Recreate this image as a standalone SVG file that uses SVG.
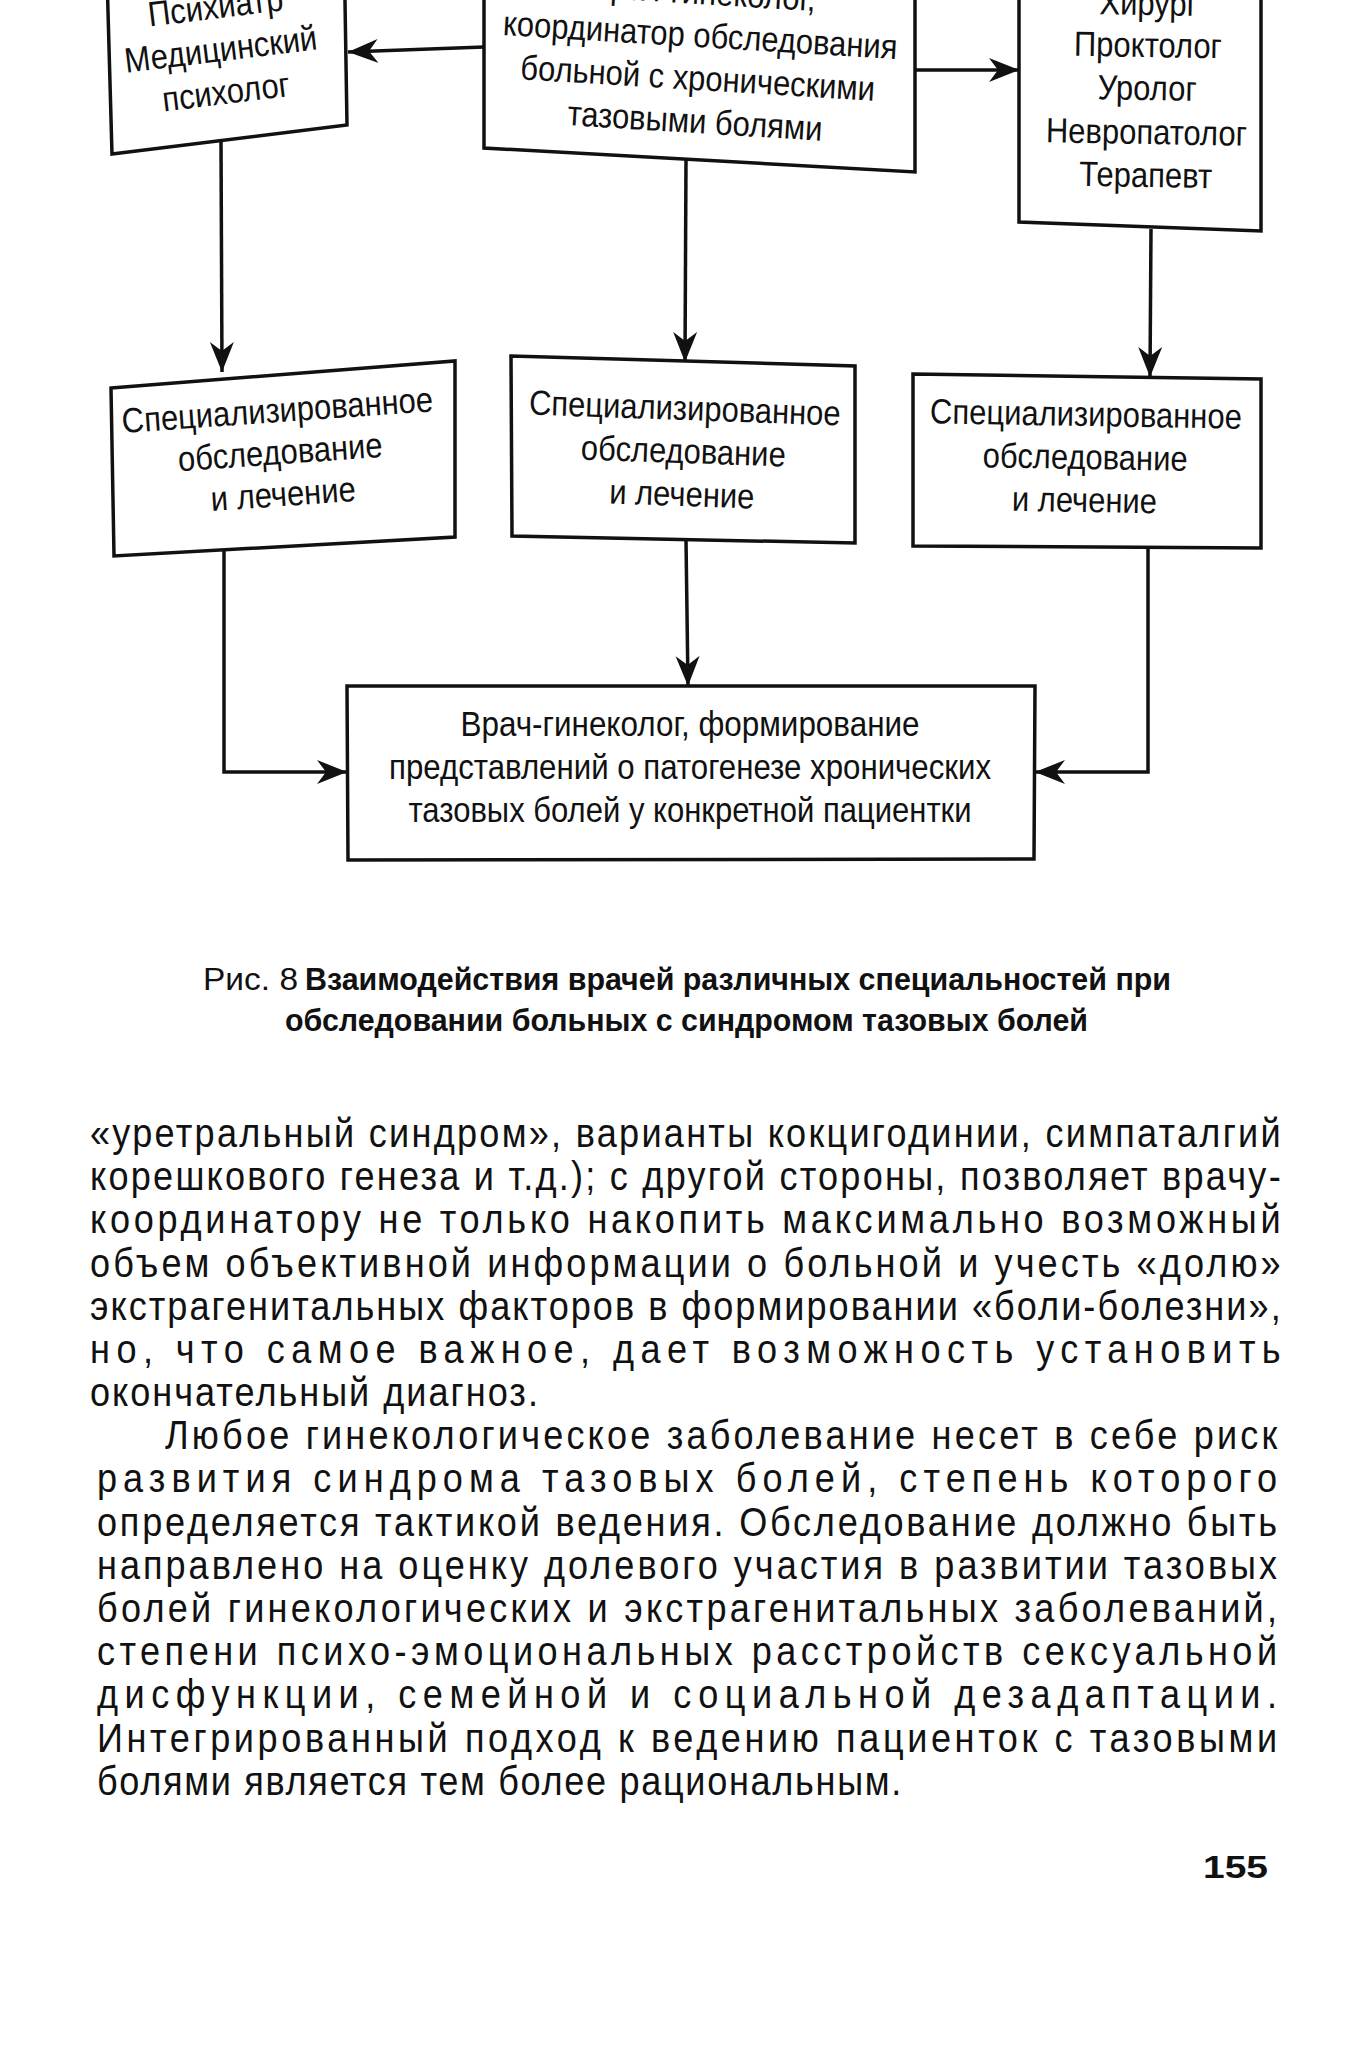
<svg xmlns="http://www.w3.org/2000/svg" width="1371" height="2050" viewBox="0 0 1371 2050">
<style>
.box{fill:#fff;stroke:#111;stroke-width:3.5;stroke-linejoin:miter}
.nt{font-family:"Liberation Sans",Arial,sans-serif;font-size:35px;fill:#111;text-anchor:middle}
.conn line,.conn polyline{stroke:#111;stroke-width:3.5;fill:none}
.cap{font-family:"Liberation Sans",Arial,sans-serif;font-size:32px;fill:#111}
.capb{font-weight:bold}
.body{font-family:"Liberation Sans",Arial,sans-serif;font-size:41px;fill:#111}
.pg{font-family:"Liberation Sans",Arial,sans-serif;font-size:32px;font-weight:bold;fill:#111}
</style>
<defs>
<marker id="arr" markerUnits="userSpaceOnUse" viewBox="0 -13 31 26" markerWidth="31" markerHeight="26" refX="30" refY="0" orient="auto">
<path d="M30,0 L0,-12 L9,0 L0,12 Z" fill="#111"/>
</marker>
</defs>
<rect width="1371" height="2050" fill="#fff"/>

<g id="connectors" class="conn">
<line x1="484" y1="47" x2="348" y2="52" marker-end="url(#arr)"/>
<line x1="915" y1="70" x2="1019" y2="70" marker-end="url(#arr)"/>
<line x1="221" y1="140" x2="222" y2="372" marker-end="url(#arr)"/>
<line x1="686" y1="159" x2="685" y2="362" marker-end="url(#arr)"/>
<line x1="1151" y1="229" x2="1150" y2="377" marker-end="url(#arr)"/>
<polyline points="224,546 224,772 347,772" marker-end="url(#arr)"/>
<line x1="686" y1="540" x2="688" y2="686" marker-end="url(#arr)"/>
<polyline points="1148,547 1148,772 1035,772" marker-end="url(#arr)"/>
</g>

<g id="node-psych">
<polygon class="box" points="106,-60 344,-60 347,125 112,154"/>
<g transform="rotate(-7 222 60) translate(222 0) scale(0.885 1) translate(-222 0)">
<text class="nt" x="222" y="18">Психиатр</text>
<text class="nt" x="222" y="61">Медицинский</text>
<text class="nt" x="222" y="104">психолог</text>
</g>
</g>

<g id="node-coordinator">
<polygon class="box" points="484,-60 915,-60 915,172 484,148"/>
<g transform="rotate(3.5 697 90) translate(697 0) scale(0.885 1) translate(-697 0)">
<text class="nt" x="697" y="4">Врач-гинеколог,</text>
<text class="nt" x="697" y="47">координатор обследования</text>
<text class="nt" x="697" y="90">больной с хроническими</text>
<text class="nt" x="697" y="133">тазовыми болями</text>
</g>
</g>

<g id="node-specialists">
<polygon class="box" points="1019,-60 1261,-60 1261,231 1019,222"/>
<g transform="rotate(1 1147 100) translate(1147 0) scale(0.885 1) translate(-1147 0)">
<text class="nt" x="1147" y="15">Хирург</text>
<text class="nt" x="1147" y="57">Проктолог</text>
<text class="nt" x="1147" y="100">Уролог</text>
<text class="nt" x="1147" y="144">Невропатолог</text>
<text class="nt" x="1147" y="187">Терапевт</text>
</g>
</g>

<g id="node-spec1">
<polygon class="box" points="111,388 455,361 455,537 114,556"/>
<g transform="rotate(-4 281 463) translate(281 0) scale(0.885 1) translate(-281 0)">
<text class="nt" x="281" y="422">Специализированное</text>
<text class="nt" x="281" y="464">обследование</text>
<text class="nt" x="281" y="506">и лечение</text>
</g>
</g>

<g id="node-spec2">
<polygon class="box" points="511,356 855,366 855,543 512,536"/>
<g transform="rotate(2 683 462) translate(683 0) scale(0.885 1) translate(-683 0)">
<text class="nt" x="683" y="420">Специализированное</text>
<text class="nt" x="683" y="463">обследование</text>
<text class="nt" x="683" y="506">и лечение</text>
</g>
</g>

<g id="node-spec3">
<polygon class="box" points="913,374 1261,379 1261,548 913,546"/>
<g transform="rotate(1 1085 468) translate(1085 0) scale(0.885 1) translate(-1085 0)">
<text class="nt" x="1085" y="426">Специализированное</text>
<text class="nt" x="1085" y="469">обследование</text>
<text class="nt" x="1085" y="512">и лечение</text>
</g>
</g>

<g id="node-final">
<polygon class="box" points="347,686 1035,686 1034,859 348,860"/>
<text class="nt" x="690" y="736" textLength="459" lengthAdjust="spacingAndGlyphs">Врач-гинеколог, формирование</text>
<text class="nt" x="690" y="779" textLength="602" lengthAdjust="spacingAndGlyphs">представлений о патогенезе хронических</text>
<text class="nt" x="690" y="822" textLength="563" lengthAdjust="spacingAndGlyphs">тазовых болей у конкретной пациентки</text>
</g>

<g id="caption">
<text class="cap" x="203" y="990" textLength="95" lengthAdjust="spacingAndGlyphs">Рис. 8</text>
<text class="cap capb" x="305" y="990" textLength="866" lengthAdjust="spacingAndGlyphs">Взаимодействия врачей различных специальностей при</text>
<text class="cap capb" x="285" y="1031" textLength="803" lengthAdjust="spacingAndGlyphs">обследовании больных с синдромом тазовых болей</text>
</g>

<g id="body-text" transform="scale(0.88 1)">
<text class="body" x="102.3" y="1147" textLength="1353" lengthAdjust="spacing">«уретральный синдром», варианты кокцигодинии, симпаталгий</text>
<text class="body" x="102.3" y="1190" textLength="1353" lengthAdjust="spacing">корешкового генеза и т.д.); с другой стороны, позволяет врачу-</text>
<text class="body" x="102.3" y="1233" textLength="1353" lengthAdjust="spacing">координатору не только накопить  максимально возможный</text>
<text class="body" x="102.3" y="1277" textLength="1353" lengthAdjust="spacing">объем объективной информации о больной и учесть «долю»</text>
<text class="body" x="102.3" y="1320" textLength="1353" lengthAdjust="spacing">экстрагенитальных факторов в формировании «боли-болезни»,</text>
<text class="body" x="102.3" y="1363" textLength="1353" lengthAdjust="spacing">но, что самое важное, дает возможность установить</text>
<text class="body" x="102.3" y="1406" textLength="509" lengthAdjust="spacing">окончательный диагноз.</text>
<text class="body" x="187.5" y="1449" textLength="1264" lengthAdjust="spacing">Любое гинекологическое заболевание несет в себе риск</text>
<text class="body" x="110.2" y="1492" textLength="1341" lengthAdjust="spacing">развития синдрома тазовых болей, степень которого</text>
<text class="body" x="110.2" y="1536" textLength="1341" lengthAdjust="spacing">определяется тактикой ведения. Обследование должно быть</text>
<text class="body" x="110.2" y="1579" textLength="1341" lengthAdjust="spacing">направлено на оценку долевого участия в развитии тазовых</text>
<text class="body" x="110.2" y="1622" textLength="1341" lengthAdjust="spacing">болей гинекологических и экстрагенитальных заболеваний,</text>
<text class="body" x="110.2" y="1665" textLength="1341" lengthAdjust="spacing">степени психо-эмоциональных расстройств сексуальной</text>
<text class="body" x="110.2" y="1708" textLength="1341" lengthAdjust="spacing">дисфункции, семейной и социальной дезадаптации.</text>
<text class="body" x="110.2" y="1752" textLength="1341" lengthAdjust="spacing">Интегрированный подход к ведению пациенток с тазовыми</text>
<text class="body" x="110.2" y="1795" textLength="914" lengthAdjust="spacing">болями является тем более рациональным.</text>
</g>

<text class="pg" x="1203" y="1878" textLength="65" lengthAdjust="spacingAndGlyphs">155</text>
</svg>
